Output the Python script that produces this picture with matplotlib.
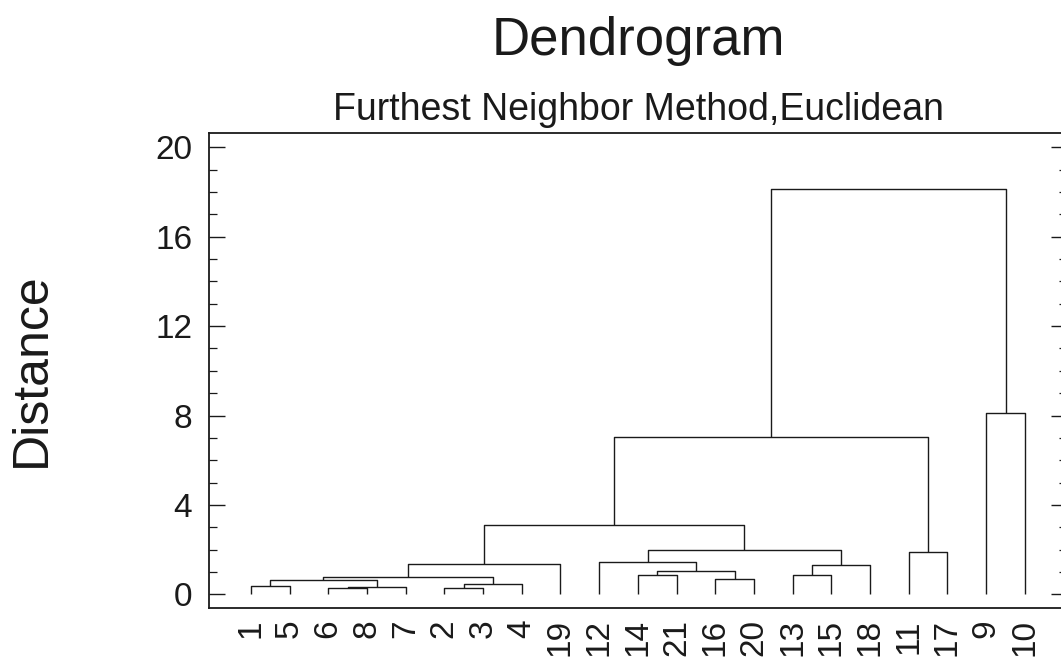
import matplotlib
matplotlib.use('Agg')
import matplotlib.pyplot as plt
from matplotlib.ticker import MultipleLocator

# leaves in the order they sit along the x axis
leaf_labels = ['1', '5', '6', '8', '7', '2', '3', '4', '19', '12', '14',
               '21', '16', '20', '13', '15', '18', '11', '17', '9', '10']

# linkage, scipy style: nodes 0-20 are the leaves above, merge k makes node 21 + k
merge_left = [0, 2, 22, 21, 5, 25, 24, 27, 10, 12, 29, 9, 14, 33, 32, 28, 17, 36, 19, 38]
merge_right = [1, 3, 4, 23, 6, 7, 26, 8, 11, 13, 30, 31, 15, 16, 34, 35, 18, 37, 20, 39]
merge_dist = [0.37, 0.30, 0.34, 0.64, 0.27, 0.45, 0.76, 1.34, 0.86, 0.68,
              1.06, 1.46, 0.86, 1.31, 1.98, 3.10, 1.91, 7.02, 8.10, 18.13]

y_ticks = [0, 4, 8, 12, 16, 20]

plt.rcParams['font.family'] = ['Liberation Sans', 'DejaVu Sans']

fig = plt.figure(figsize=(10.61, 6.6), dpi=100)
ax = fig.add_axes([0.197, 0.0788, 0.8087, 0.7197])

node_x = list(range(len(leaf_labels)))
node_y = [0.0] * len(leaf_labels)
for left, right, dist in zip(merge_left, merge_right, merge_dist):
    x0, x1 = node_x[left], node_x[right]
    ax.plot([x0, x0, x1, x1], [node_y[left], dist, dist, node_y[right]],
            color='#1a1a1a', lw=1.0, solid_capstyle='butt')
    node_x.append((x0 + x1) / 2)
    node_y.append(dist)

ax.set_xlim(-1.08, 21.09)
ax.set_ylim(-0.61, 20.64)

ax.set_xticks(range(len(leaf_labels)), leaf_labels, rotation=90)
ax.set_yticks(y_ticks)
ax.yaxis.set_minor_locator(MultipleLocator(1))

ax.tick_params(axis='x', length=0, labelsize=24, pad=8, colors='#1a1a1a')
ax.tick_params(axis='y', which='major', direction='in', length=11.5, width=1.0,
               labelsize=24, pad=12, left=True, right=True, colors='#1a1a1a')
ax.tick_params(axis='y', which='minor', direction='in', length=6, width=0.9,
               left=True, right=True, colors='#1a1a1a')

for spine in ax.spines.values():
    spine.set_linewidth(1.3)
    spine.set_color('#1a1a1a')

center_x = 0.197 + 0.8087 / 2
fig.text(center_x, 1 - 55 / 660, 'Dendrogram', ha='center', va='baseline',
         fontsize=38, color='#1a1a1a')
fig.text(center_x, 1 - 120 / 660, 'Furthest Neighbor Method,Euclidean',
         ha='center', va='baseline', fontsize=27, color='#1a1a1a')
fig.text(32 / 1061, 1 - 370 / 660, 'Distance', rotation=90, ha='center',
         va='center', fontsize=36, color='#1a1a1a')

fig.savefig('out.png', dpi=100)
